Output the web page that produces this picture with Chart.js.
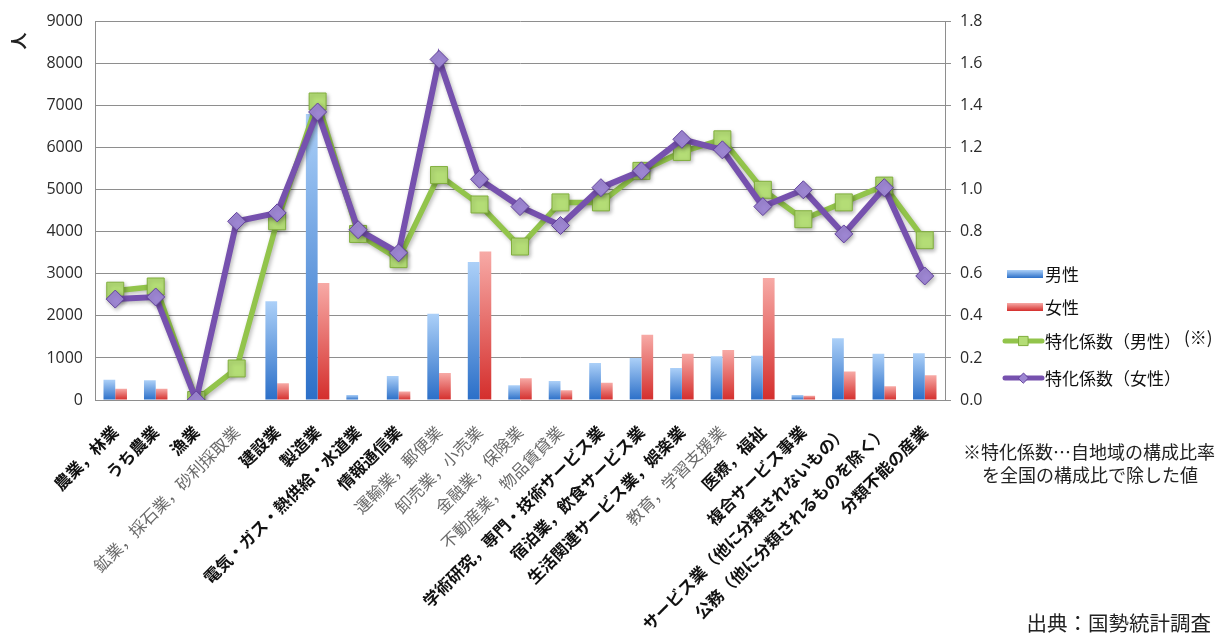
<!DOCTYPE html>
<html>
<head>
<meta charset="utf-8">
<script src="https://cdn.jsdelivr.net/npm/chart.js@4.4.1/dist/chart.umd.min.js"></script>
<style>
  html, body { margin: 0; padding: 0; background: #ffffff; }
  #wrap { position: relative; width: 1219px; height: 635px; }
</style>
</head>
<body>
<div id="wrap"><canvas id="chart" width="1219" height="635"></canvas></div>
<script>
// 産業別就業者数（人）と特化係数
const industries = [
  '農業，林業', 'うち農業', '漁業', '鉱業，採石業，砂利採取業', '建設業', '製造業',
  '電気・ガス・熱供給・水道業', '情報通信業', '運輸業，郵便業', '卸売業，小売業',
  '金融業，保険業', '不動産業，物品賃貸業', '学術研究，専門・技術サービス業',
  '宿泊業，飲食サービス業', '生活関連サービス業，娯楽業', '教育，学習支援業',
  '医療，福祉', '複合サービス事業', 'サービス業（他に分類されないもの）',
  '公務（他に分類されるものを除く）', '分類不能の産業'
];
const maleWorkers   = [480, 470, 0, 0, 2350, 6800, 120, 570, 2050, 3280, 350, 450, 880, 1000, 760, 1040, 1050, 120, 1470, 1100, 1110];
const femaleWorkers = [270, 270, 0, 0, 400, 2780, 0, 200, 640, 3530, 520, 230, 410, 1550, 1100, 1190, 2900, 100, 680, 330, 590];
const maleCoef      = [0.52, 0.54, 0.00, 0.15, 0.85, 1.42, 0.79, 0.67, 1.07, 0.93, 0.73, 0.94, 0.94, 1.09, 1.18, 1.24, 1.00, 0.86, 0.94, 1.02, 0.76];
const femaleCoef    = [0.48, 0.49, 0.00, 0.85, 0.89, 1.37, 0.81, 0.70, 1.62, 1.05, 0.92, 0.83, 1.01, 1.09, 1.24, 1.19, 0.92, 1.00, 0.79, 1.01, 0.59];
const workerTickStep = 1000;
const workerMax = 9000;
const coefTickStep = 0.2;
const coefMax = 1.8;

// ---- styling ----
const JP = '"Noto Sans CJK JP", "Noto Sans", sans-serif';
const NUM = '"Open Sans", "Noto Sans", sans-serif';
const GRID = '#8e8e8e';
// categories whose axis label is set in a thinner grey face
const thinLabels = new Set(['鉱業，採石業，砂利採取業', '運輸業，郵便業', '卸売業，小売業',
  '金融業，保険業', '不動産業，物品賃貸業', '教育，学習支援業']);

const BLUE = { top: '#acd0f8', bottom: '#2b6fc8', solid: '#4a8ad8' };
const RED  = { top: '#f7aaa6', bottom: '#d42e2c', solid: '#e05a55' };
const GREEN = { line: '#92c44b', fill: '#b4dd76', edge: '#80ae3d' };
const PURPLE = { line: '#7651ae', fill: '#9d86d2', edge: '#62419c' };

// vertical gradient spanning each bar from its top to the baseline
function barGradient(colors) {
  return (ctx) => {
    const chart = ctx.chart;
    if (ctx.type !== 'data' || !chart.chartArea) return colors.solid;
    const y = chart.scales.y;
    const top = y.getPixelForValue(ctx.raw || 0);
    const base = y.getPixelForValue(0);
    if (!isFinite(top) || base - top < 1) return colors.solid;
    const g = chart.ctx.createLinearGradient(0, top, 0, base);
    g.addColorStop(0, colors.top);
    g.addColorStop(1, colors.bottom);
    return g;
  };
}

// soft shadow under the two coefficient lines
const lineShadow = {
  id: 'lineShadow',
  beforeDatasetDraw(chart, args) {
    if (args.meta.type !== 'line') return;
    const c = chart.ctx;
    c.save();
    c.shadowColor = 'rgba(0,0,0,0.28)';
    c.shadowBlur = 4;
    c.shadowOffsetX = 1.5;
    c.shadowOffsetY = 2;
  },
  afterDatasetDraw(chart, args) {
    if (args.meta.type !== 'line') return;
    chart.ctx.restore();
  }
};

// unit label, legend, footnote and source line
const annotations = {
  id: 'annotations',
  afterDraw(chart) {
    const c = chart.ctx;
    c.save();

    // unit of the left axis, turned on its side
    c.save();
    c.translate(19, 41);
    c.rotate(-Math.PI / 2);
    c.fillStyle = '#222';
    c.font = `bold 17px ${JP}`;
    c.textAlign = 'center';
    c.textBaseline = 'middle';
    c.fillText('人', 0, 0);
    c.restore();

    // legend
    const ds = chart.data.datasets;
    const sx = 1003, sw = 41, tx = 1045;
    const rows = [274, 307, 341, 378];
    c.font = `17px ${JP}`;
    c.textBaseline = 'middle';
    c.textAlign = 'left';
    c.fillStyle = '#111';

    [BLUE, RED].forEach((col, i) => {
      const y = rows[i];
      const g = c.createLinearGradient(0, y - 4, 0, y + 4);
      g.addColorStop(0, col.top);
      g.addColorStop(1, col.bottom);
      c.fillStyle = g;
      c.fillRect(sx + 4, y - 4, sw - 5, 8);
      c.fillStyle = '#111';
      c.fillText(ds[i].label, tx, y + 1);
    });

    [[GREEN, 'rect', 6.5], [PURPLE, 'rectRot', 5]].forEach(([col, style, r], k) => {
      const i = k + 2;
      const y = rows[i];
      c.strokeStyle = col.line;
      c.lineWidth = 5;
      c.lineCap = 'round';
      c.beginPath();
      c.moveTo(sx + 2, y);
      c.lineTo(sx + sw - 2, y);
      c.stroke();
      c.fillStyle = col.fill;
      c.strokeStyle = col.edge;
      c.lineWidth = 1;
      Chart.helpers.drawPoint(c, { pointStyle: style, radius: r, borderWidth: 1 }, sx + sw / 2, y);
      c.fillStyle = '#111';
      c.fillText(ds[i].label, tx, y + 1);
    });
    c.font = `17px ${JP}`;
    c.fillText('(※)', 1184, rows[2] - 3);

    // footnote
    c.font = `18px ${JP}`;
    c.textAlign = 'center';
    c.fillStyle = '#222';
    c.fillText('※特化係数…自地域の構成比率', 1089, 452);
    c.fillText('を全国の構成比で除した値', 1090, 475);

    // source
    c.font = `20.5px ${JP}`;
    c.textAlign = 'right';
    c.fillText('出典：国勢統計調査', 1211, 623);

    c.restore();
  }
};

new Chart(document.getElementById('chart'), {
  data: {
    labels: industries,
    datasets: [
      {
        type: 'bar', label: '男性', data: maleWorkers, yAxisID: 'y', order: 3,
        backgroundColor: barGradient(BLUE), borderWidth: 0,
        categoryPercentage: 0.58, barPercentage: 1.0
      },
      {
        type: 'bar', label: '女性', data: femaleWorkers, yAxisID: 'y', order: 3,
        backgroundColor: barGradient(RED), borderWidth: 0,
        categoryPercentage: 0.58, barPercentage: 1.0
      },
      {
        type: 'line', label: '特化係数（男性）', data: maleCoef, yAxisID: 'y1', order: 2,
        borderColor: GREEN.line, borderWidth: 5.5, tension: 0,
        pointStyle: 'rect', pointRadius: 12, pointBorderWidth: 1,
        pointBackgroundColor: GREEN.fill, pointBorderColor: GREEN.edge
      },
      {
        type: 'line', label: '特化係数（女性）', data: femaleCoef, yAxisID: 'y1', order: 1,
        borderColor: PURPLE.line, borderWidth: 6, tension: 0,
        pointStyle: 'rectRot', pointRadius: 9, pointBorderWidth: 1,
        pointBackgroundColor: PURPLE.fill, pointBorderColor: PURPLE.edge
      }
    ]
  },
  options: {
    responsive: false,
    animation: false,
    devicePixelRatio: 1,
    layout: { padding: { top: 18, left: 0, right: 0, bottom: 0 } },
    plugins: {
      legend: { display: false },
      tooltip: { enabled: false }
    },
    scales: {
      x: {
        offset: true,
        grid: { display: false, drawTicks: false },
        border: { display: false },
        ticks: {
          autoSkip: false,
          minRotation: 45,
          maxRotation: 45,
          padding: 22,
          font: (ctx) => ({
            family: JP,
            size: 16.5,
            weight: thinLabels.has(industries[ctx.index]) ? 'normal' : 'bold'
          }),
          color: (ctx) => thinLabels.has(industries[ctx.index]) ? '#6a6a6a' : '#111'
        },
        afterFit: (s) => { s.height = 235; }
      },
      y: {
        position: 'left',
        min: 0,
        max: workerMax,
        ticks: {
          stepSize: workerTickStep,
          callback: (v) => String(v),
          font: { family: NUM, size: 16 },
          color: '#2a2a2a',
          padding: 12
        },
        grid: { color: GRID, lineWidth: 1, drawTicks: false },
        border: { display: true, color: GRID, width: 1 },
        afterFit: (s) => { s.width = 95; }
      },
      y1: {
        position: 'right',
        min: 0,
        max: coefMax,
        ticks: {
          stepSize: coefTickStep,
          callback: (v) => Number(v).toFixed(1),
          font: { family: NUM, size: 16 },
          color: '#2a2a2a',
          padding: 9
        },
        grid: { drawOnChartArea: false, drawTicks: true, tickLength: 6, color: GRID },
        border: { display: true, color: GRID, width: 1 },
        afterFit: (s) => { s.width = 274; }
      }
    }
  },
  plugins: [lineShadow, annotations]
});
</script>
</body>
</html>
